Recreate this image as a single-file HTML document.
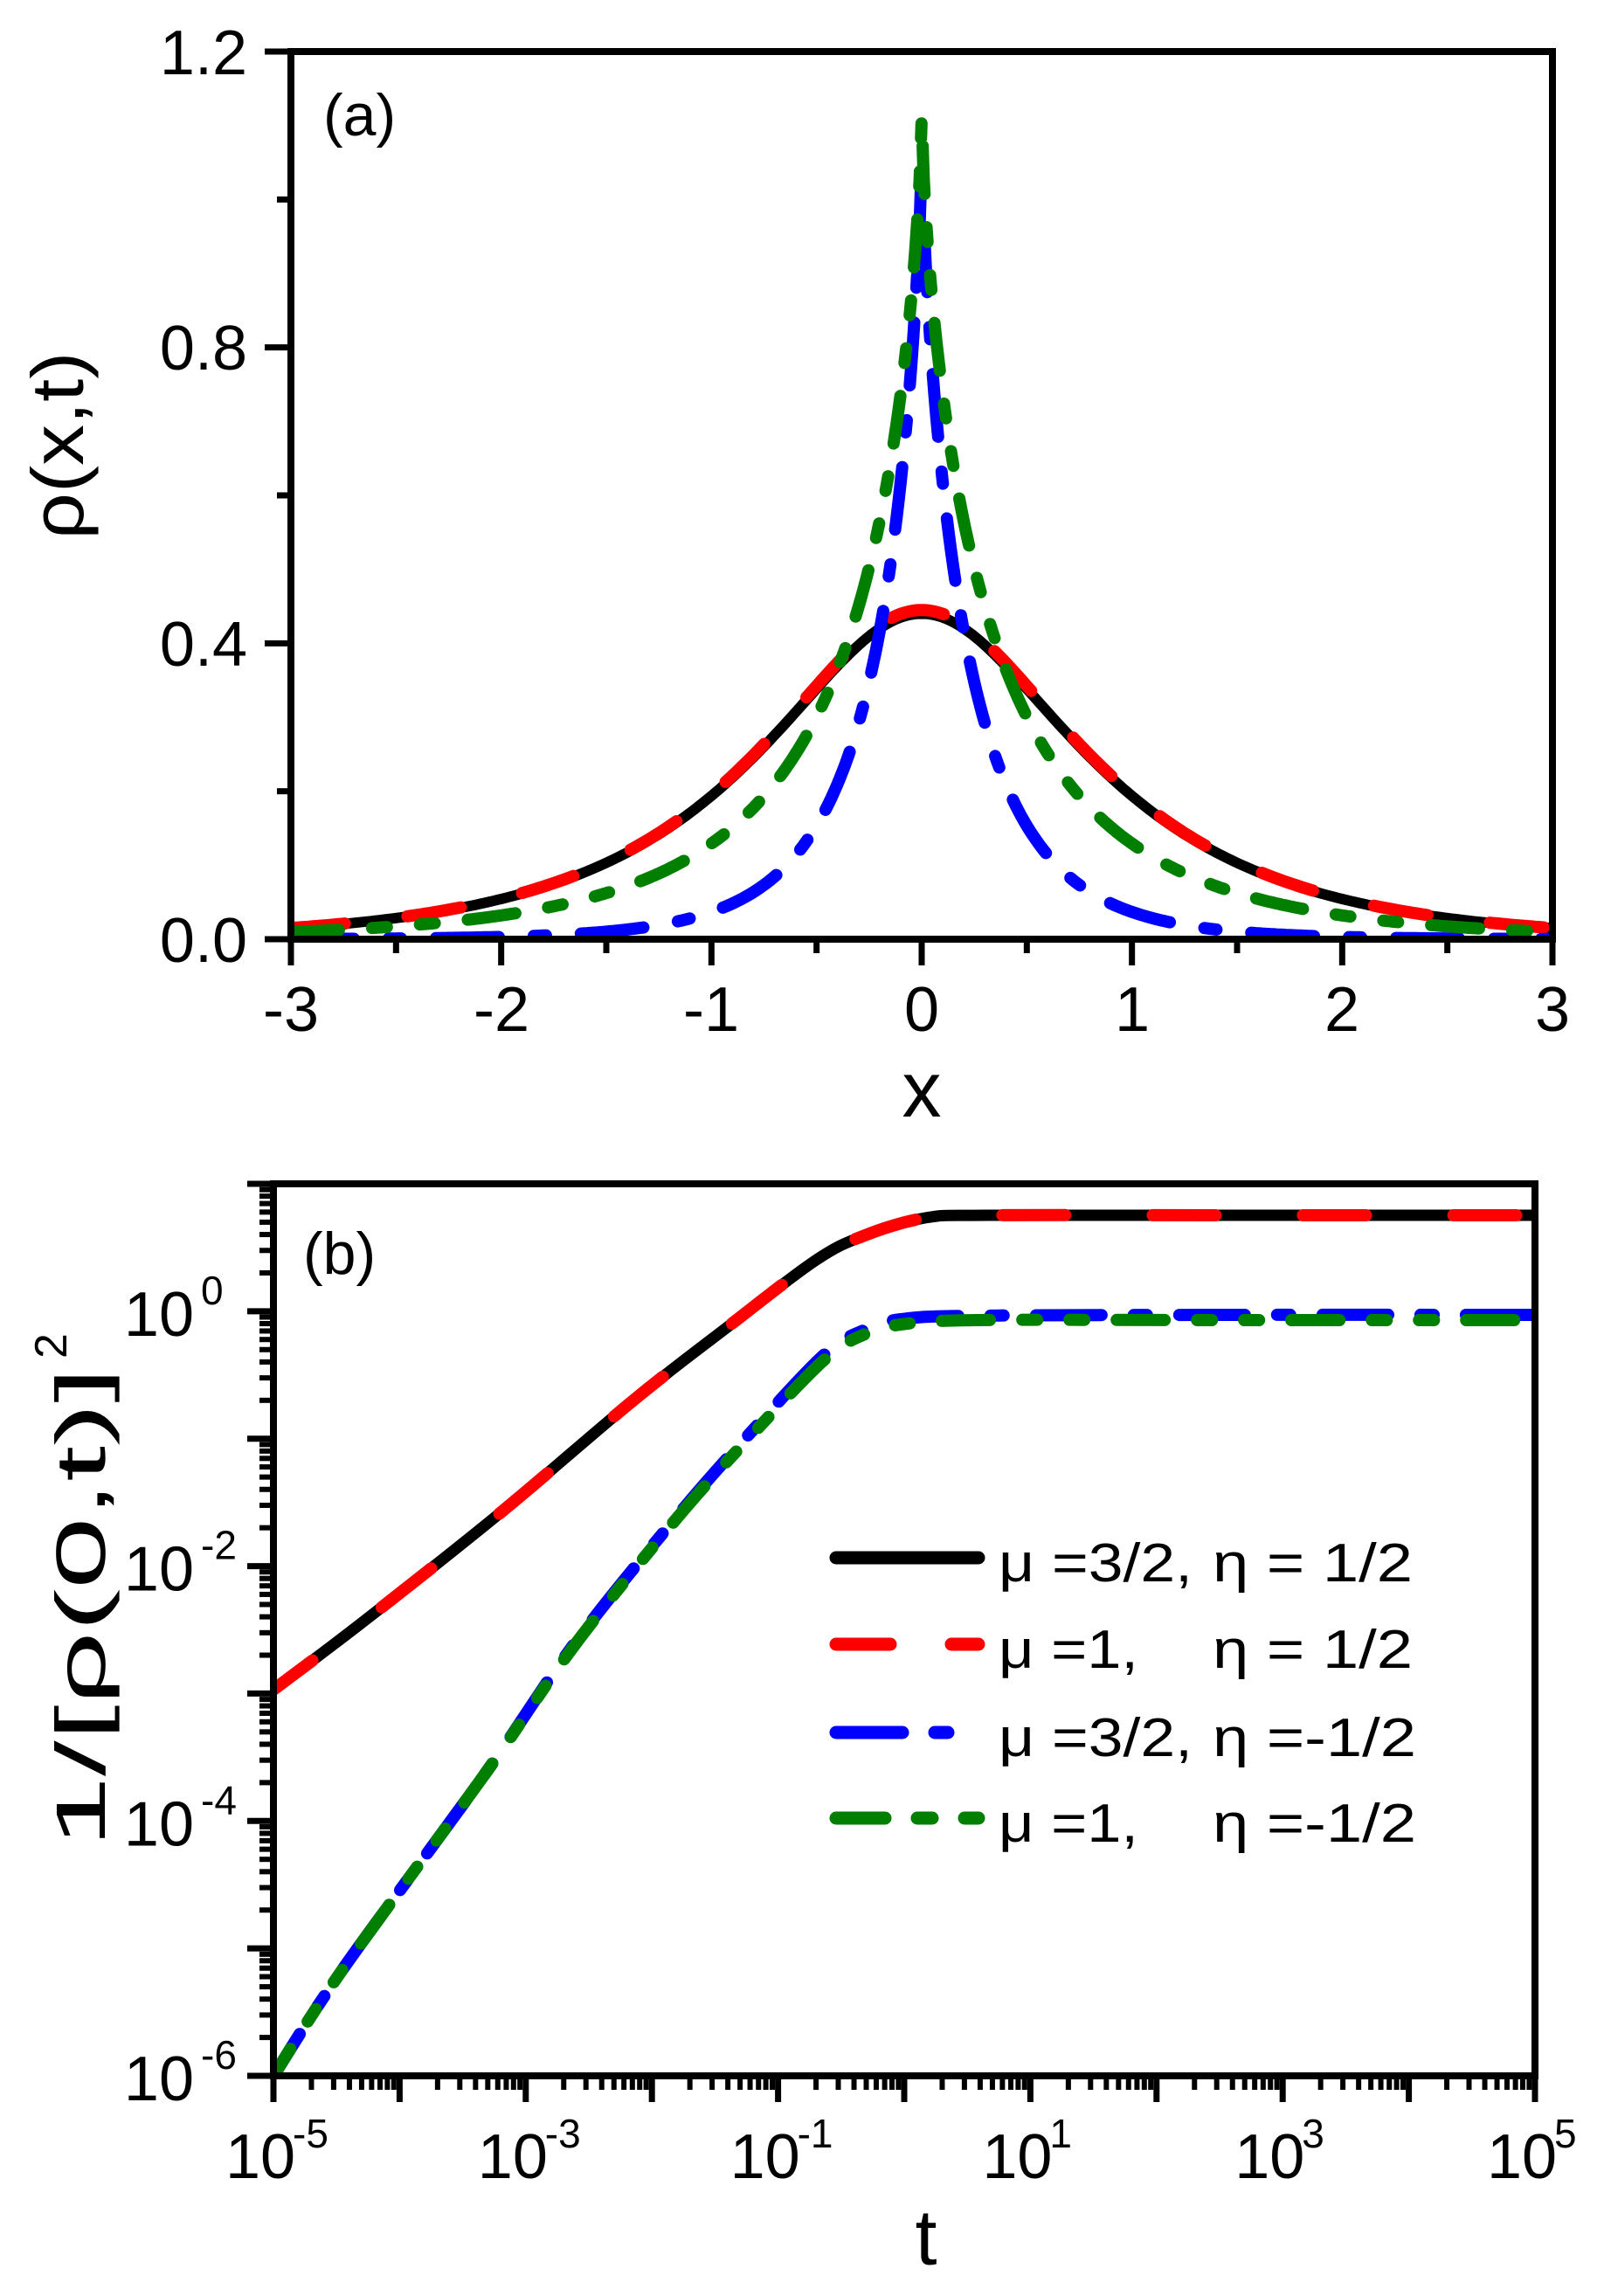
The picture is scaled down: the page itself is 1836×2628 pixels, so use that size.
<!DOCTYPE html>
<html><head><meta charset="utf-8"><style>
html,body{margin:0;padding:0;background:#fff;}
svg{display:block;}
text{font-family:"Liberation Sans",Arial,sans-serif;fill:#000;}
</style></head><body>
<svg id="s" width="1836" height="2628" viewBox="0 0 1836 2628" xmlns="http://www.w3.org/2000/svg">
<defs>
<clipPath id="ca"><rect x="333" y="59" width="1444" height="1016"/></clipPath>
<clipPath id="cb"><rect x="313" y="1355" width="1444" height="1021"/></clipPath>
</defs>
<g id="ga" clip-path="url(#ca)"></g>
<g id="gb" clip-path="url(#cb)"></g>
<g id="axes" stroke="#000" stroke-width="8" fill="none" stroke-linecap="square">
<rect x="333" y="59" width="1444" height="1016"/>
<rect x="313" y="1355" width="1444" height="1021"/>
</g>
<g id="ticks" stroke="#000" stroke-width="7"></g>
<g font-size="72">
<text x="283" y="85" text-anchor="end">1.2</text>
<text x="283" y="423" text-anchor="end">0.8</text>
<text x="283" y="762" text-anchor="end">0.4</text>
<text x="283" y="1101" text-anchor="end">0.0</text>
<text x="333" y="1180" text-anchor="middle">-3</text>
<text x="574" y="1180" text-anchor="middle">-2</text>
<text x="814" y="1180" text-anchor="middle">-1</text>
<text x="1055" y="1180" text-anchor="middle">0</text>
<text x="1296" y="1180" text-anchor="middle">1</text>
<text x="1536" y="1180" text-anchor="middle">2</text>
<text x="1777" y="1180" text-anchor="middle">3</text>
</g>
<text x="1055" y="1278" font-size="90" text-anchor="middle">x</text>
<text transform="translate(95,510) rotate(-90)" font-size="84" text-anchor="middle" textLength="215" lengthAdjust="spacingAndGlyphs">ρ(x,t)</text>
<text x="370" y="155" font-size="68">(a)</text>
<g id="ylb" font-size="72"></g>
<text x="347" y="1458" font-size="68">(b)</text>
<text x="1060" y="2592" font-size="90" text-anchor="middle">t</text>
<g transform="translate(120,2115) rotate(-90)">
<text x="0" y="0" font-size="80" textLength="550" lengthAdjust="spacingAndGlyphs">1/[ρ(0,t)]</text>
<text x="560" y="-44" font-size="52">2</text>
</g>
<g id="leg"></g>
</svg>
<script>
var NS="http://www.w3.org/2000/svg";
function el(p,tag,a,txt){var e=document.createElementNS(NS,tag);for(var k in a)e.setAttribute(k,a[k]);if(txt!==undefined)e.textContent=txt;p.appendChild(e);return e;}
var ga=document.getElementById('ga'),gb=document.getElementById('gb'),tk=document.getElementById('ticks');
function X(x){return 333+(x+3)*1444/6;}
function Y(v){return 1075-v*1016/1.2;}
function sech(z){return 1/Math.cosh(z);}
function path(f,step){var d="";for(var x=-3;x<=3.0001;x+=step){d+=(d?"L":"M")+X(x).toFixed(1)+","+Y(f(x)).toFixed(1);}return d;}
var fb=function(x){return 0.44*Math.pow(sech(1.84*x),0.7);};
var fr=function(x){return 0.445*Math.pow(sech(1.84*x),0.7);};
var fbl=function(x){return 1.05*Math.exp(-3.35*Math.pow(Math.abs(x),0.8));};
var fg=function(x){return 1.11*Math.exp(-2.15*Math.pow(Math.abs(x),0.72));};
el(ga,'path',{d:path(fb,0.02),stroke:'#000','stroke-width':12,fill:'none'});
el(ga,'path',{d:path(fr,0.02),stroke:'#f00','stroke-width':14,fill:'none','stroke-dasharray':'62 72','stroke-linecap':'round'});
el(ga,'path',{d:path(fbl,0.01),stroke:'#00f','stroke-width':14,fill:'none','stroke-dasharray':'72 40 14 40','stroke-linecap':'round'});
el(ga,'path',{d:path(fg,0.01),stroke:'#007f00','stroke-width':14,fill:'none','stroke-dasharray':'55 38 17 38 17 38','stroke-linecap':'round'});
for(var i=0;i<=6;i++){var v=i*0.2;var y=Y(v);var len=(i%2==0)?30:16;el(tk,'line',{x1:333-len,y1:y,x2:333,y2:y});}
for(var i=0;i<=12;i++){var x=X(-3+i*0.5);var len=(i%2==0)?30:16;el(tk,'line',{x1:x,y1:1075,x2:x,y2:1075+len});}
function TX(l){return 313+(l+5)*1444/10;}
function TY(l){return 2376-(l+6)*1021/7;}
for(var d=-6;d<=1;d++){el(tk,'line',{x1:283,y1:TY(d),x2:313,y2:TY(d)});if(d<1)for(var m=2;m<=9;m++){var y=TY(d+Math.log10(m));el(tk,'line',{x1:297,y1:y,x2:313,y2:y,'stroke-width':6});}}
for(var d=-5;d<=5;d++){el(tk,'line',{x1:TX(d),y1:2376,x2:TX(d),y2:2406});if(d<5)for(var m=2;m<=9;m++){var x=TX(d+Math.log10(m));el(tk,'line',{x1:x,y1:2376,x2:x,y2:2392,'stroke-width':6});}}
var ylb=document.getElementById('ylb');
[[0,'0'],[-2,'-2'],[-4,'-4'],[-6,'-6']].forEach(function(a){var y=TY(a[0]);
 el(ylb,'text',{x:222,y:y+28,'text-anchor':'end'},'10');
 el(ylb,'text',{x:230,y:y-8,'font-size':46},a[1]);});
[[-5,'-5'],[-3,'-3'],[-1,'-1'],[1,'1'],[3,'3'],[5,'5']].forEach(function(a){var x=TX(a[0]);
 el(ylb,'text',{x:x-55,y:2493},'10');
 el(ylb,'text',{x:x+22,y:2458,'font-size':46},a[1]);});
function smooth(p){var d="M"+p[0][0]+","+p[0][1];for(var i=0;i<p.length-1;i++){var p0=p[i>0?i-1:i],p1=p[i],p2=p[i+1],p3=p[i+2<p.length?i+2:i+1];
 var c1x=p1[0]+(p2[0]-p0[0])/6,c1y=p1[1]+(p2[1]-p0[1])/6,c2x=p2[0]-(p3[0]-p1[0])/6,c2y=p2[1]-(p3[1]-p1[1])/6;
 d+="C"+c1x.toFixed(1)+","+c1y.toFixed(1)+" "+c2x.toFixed(1)+","+c2y.toFixed(1)+" "+p2[0]+","+p2[1];}return d;}
var pk=[[305,1940],[313,1934],[416,1856],[571,1733],[726,1602],[830,1521],[933,1443],[990,1414],[1059,1394],[1130,1391],[1400,1391],[1770,1391]];
var pbl=[[306,2386],[313,2376],[393,2253],[554,2032],[657,1882],[772,1739],[858,1641],[944,1550],[990,1522],[1031,1510],[1117,1506],[1400,1505],[1770,1505]];
var pg=[[306,2386],[313,2376],[393,2253],[554,2032],[657,1884],[772,1741],[858,1645],[944,1556],[990,1527],[1031,1516],[1117,1511],[1400,1511],[1770,1511]];
el(gb,'path',{d:smooth(pk),stroke:'#000','stroke-width':13,fill:'none'});
el(gb,'path',{d:smooth(pk),stroke:'#f00','stroke-width':14,fill:'none','stroke-dasharray':'72 100','stroke-linecap':'round'});
el(gb,'path',{d:smooth(pbl),stroke:'#00f','stroke-width':14,fill:'none','stroke-dasharray':'75 37 15 37','stroke-linecap':'round'});
el(gb,'path',{d:smooth(pg),stroke:'#007f00','stroke-width':14,fill:'none','stroke-dasharray':'55 37 17 37 17 37','stroke-linecap':'round'});
var lg=document.getElementById('leg');
var rows=[[1783,'#000',null,'μ =3/2,',222,'η = 1/2'],[1882,'#f00','62 70','μ =1,',160,'η = 1/2'],[1983,'#00f','76 37 15 1000','μ =3/2,',222,'η =-1/2'],[2081,'#007f00','56 37 17 37 17 1000','μ =1,',160,'η =-1/2']];
rows.forEach(function(r){var a={x1:957,y1:r[0],x2:1120,y2:r[0],stroke:r[1],'stroke-width':15,'stroke-linecap':'round'};if(r[2])a['stroke-dasharray']=r[2];el(lg,'line',a);
 el(lg,'text',{x:1143,y:r[0]+27,'font-size':62,textLength:r[4],lengthAdjust:'spacingAndGlyphs'},r[3]);
 el(lg,'text',{x:1388,y:r[0]+27,'font-size':62,textLength:(r[5].indexOf('-')>0?233:229),lengthAdjust:'spacingAndGlyphs'},r[5]);});
</script>
</body></html>
